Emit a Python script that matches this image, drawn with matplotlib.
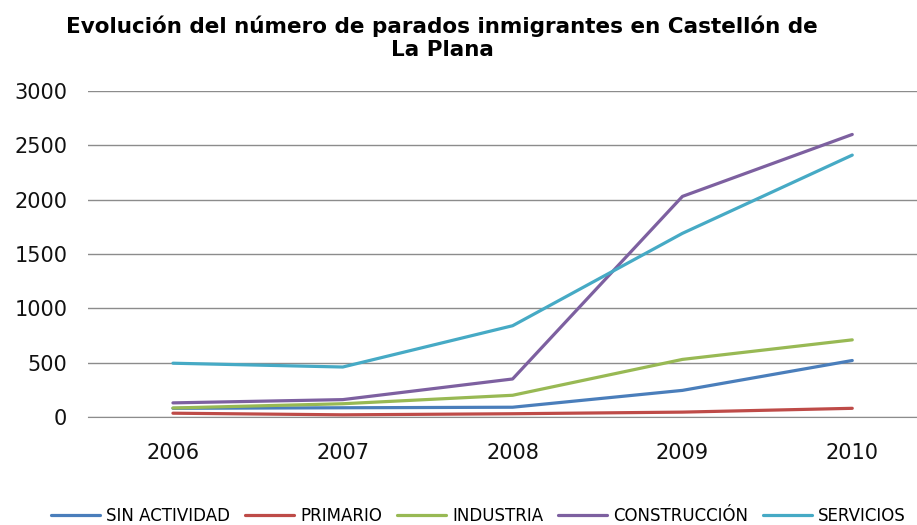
import matplotlib.pyplot as plt

years = ["2006", "2007", "2008", "2009", "2010"]
sin_actividad = [80, 85, 90, 245, 520]
primario = [35, 20, 30, 45, 80]
industria = [83, 122, 200, 530, 710]
construccion = [130, 160, 350, 2030, 2600]
servicios = [495, 460, 840, 1690, 2410]

series = [("SIN ACTIVIDAD", sin_actividad, "#4A7EBB"),
          ("PRIMARIO", primario, "#BE4B48"),
          ("INDUSTRIA", industria, "#98B954"),
          ("CONSTRUCCIÓN", construccion, "#7D60A0"),
          ("SERVICIOS", servicios, "#46AAC5")]

fig = plt.figure(figsize=(9.17, 5.25), dpi=100)
ax = fig.add_axes([0.096, 0.2057, 0.926, 0.621])

x = range(len(years))
for name, vals, col in series:
    ax.plot(x, vals, color=col, lw=2.3, label=name, solid_capstyle="round")

ax.set_xlim(-0.5, 4.5)
ax.set_ylim(0, 3000)
ax.set_yticks(range(0, 3001, 500))
ax.set_xticks(list(x))
ax.set_xticklabels(years)
ax.yaxis.grid(True, color="#8c8c8c", lw=1.0)
ax.set_axisbelow(True)
for s in ["top", "right", "left"]:
    ax.spines[s].set_visible(False)
ax.spines["bottom"].set_color("#8c8c8c")
ax.tick_params(axis="both", length=0, labelsize=15, colors="#111111")
ax.tick_params(axis="y", pad=15)
ax.tick_params(axis="x", pad=19)

fig.text(0.482, 0.97, "Evolución del número de parados inmigrantes en Castellón de\nLa Plana",
         ha="center", va="top", fontsize=15.5, fontweight="bold", linespacing=1.2)

leg = fig.legend(loc="center", bbox_to_anchor=(0.522, 0.018), ncol=5, frameon=False,
                 handlelength=2.9, columnspacing=0.9, handletextpad=0.4,
                 prop={"family": "DejaVu Sans", "size": 12})

fig.savefig("out.png", dpi=100)
